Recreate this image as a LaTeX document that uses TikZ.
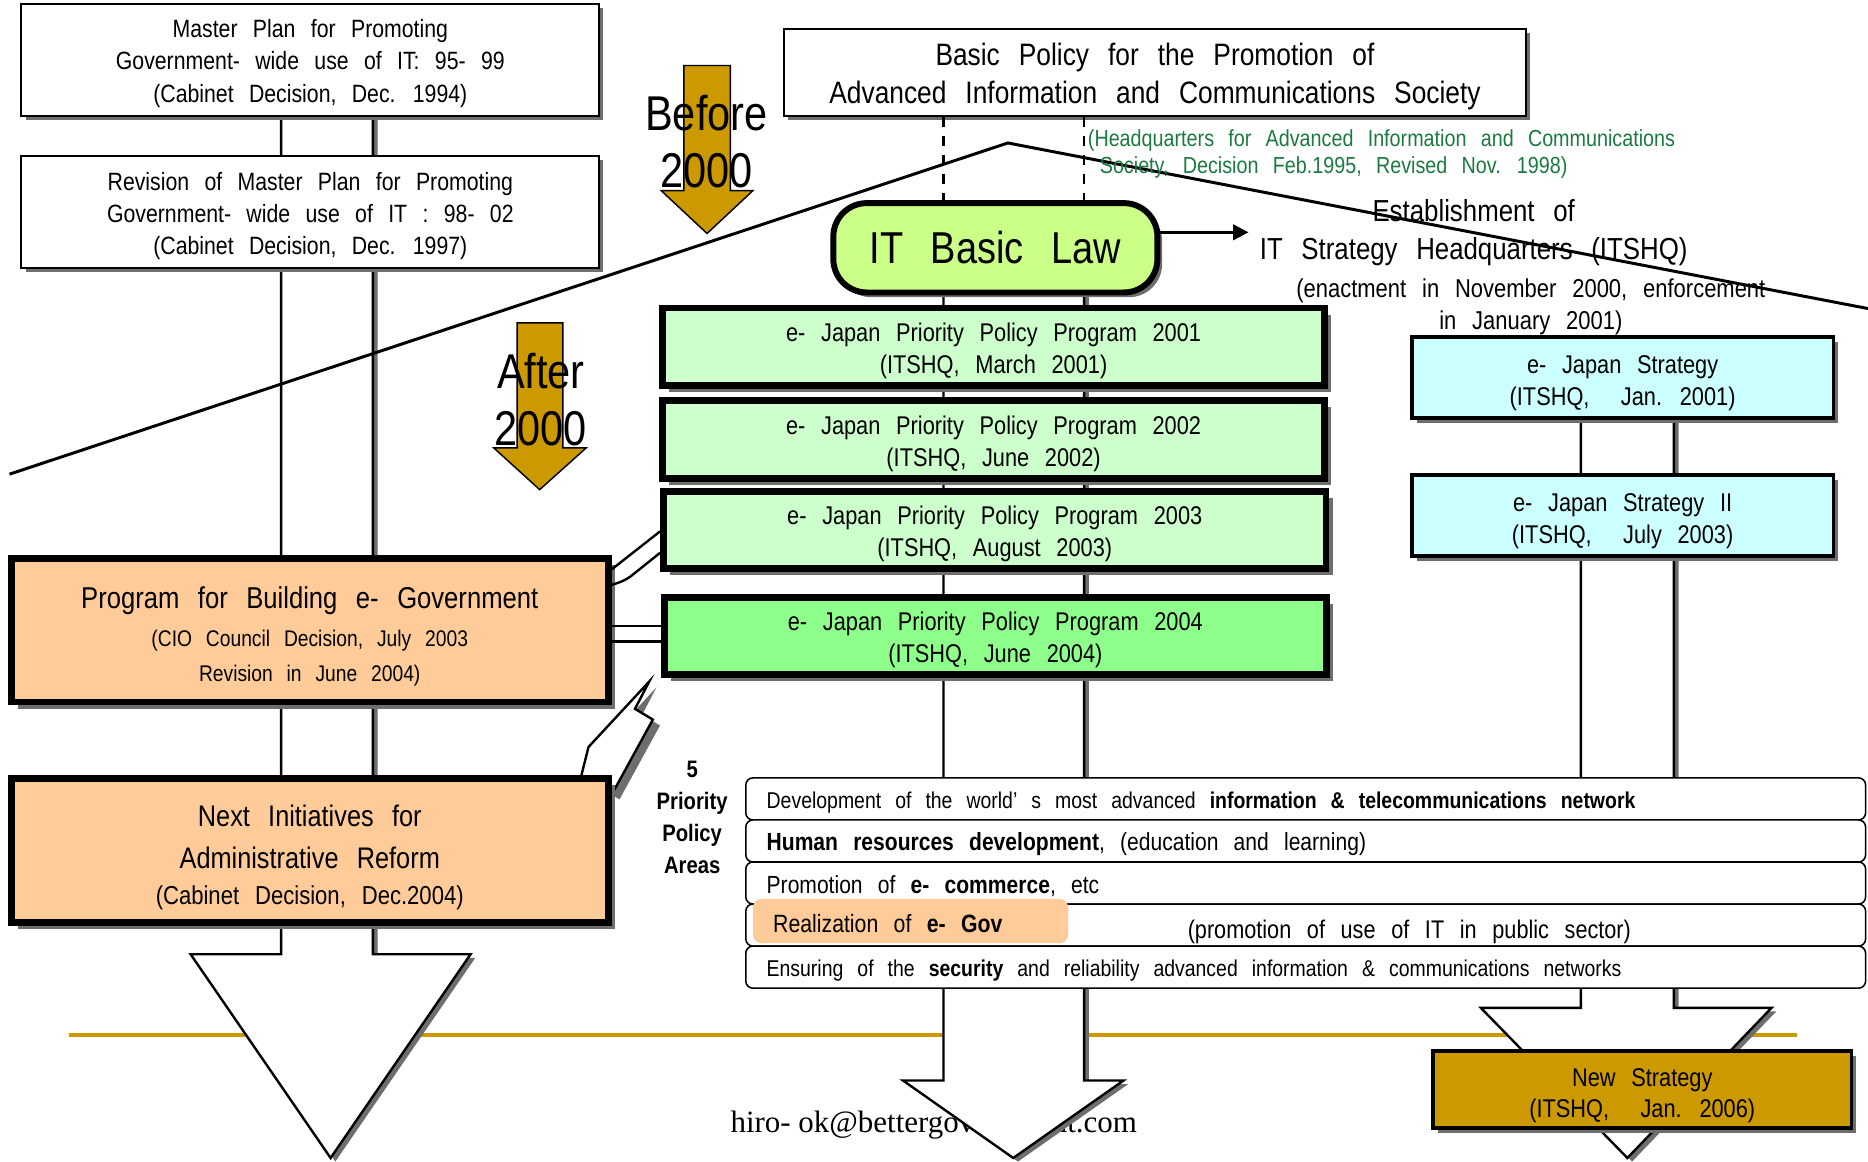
\documentclass[tikz,border=0pt]{standalone}
\usepackage{fontspec}
\setmainfont{Liberation Sans}[FakeStretch=0.85, WordSpace=2.6]
\newfontfamily\mailfont{Liberation Serif}
\usetikzlibrary{shadows,arrows.meta,calc}

\definecolor{ogold}{HTML}{CC9900}
\definecolor{opeach}{HTML}{FFCC99}
\definecolor{olgreen}{HTML}{CCFFCC}
\definecolor{omgreen}{HTML}{8FFF8C}
\definecolor{olime}{HTML}{CCFF88}
\definecolor{olcyan}{HTML}{CCFFFF}
\definecolor{ohqgreen}{HTML}{1A7A40}
\definecolor{oshade}{HTML}{6E6E6E}

\newcommand\fsz[2]{\fontsize{#1}{#2}\selectfont}
% invisible strut that lowers the text block inside a box
\newcommand\lift[1]{\rule{0pt}{#1}}

\tikzset{
  thinbox/.style={draw, line width=1.6pt, fill=white, align=center, inner sep=0pt,
    drop shadow={shadow xshift=3.5pt, shadow yshift=-3.5pt, fill=oshade, opacity=1}},
  thickbox/.style={draw, line width=5.8pt, align=center, inner sep=0pt,
    drop shadow={shadow xshift=5.5pt, shadow yshift=-5.5pt, fill=oshade, opacity=1}},
  ejbox/.style={thickbox, fill=olgreen, minimum width=556, minimum height=65, font=\fsz{21.5}{27}},
  stratbox/.style={draw, line width=3pt, fill=olcyan, align=center, inner sep=0pt,
    minimum width=354, minimum height=68, font=\fsz{21.5}{27},
    drop shadow={shadow xshift=4pt, shadow yshift=-4pt, fill=oshade, opacity=1}},
  hollowarrow/.style={fill=white, draw=black, line width=2pt, line join=miter},
  goldarrow/.style={fill=ogold, draw=black, line width=1.2pt, line join=miter},
  prow/.style={draw, line width=1.3pt, fill=white, rounded corners=6pt,
    minimum width=940, minimum height=35.3, inner sep=0pt},
  rowtext/.style={anchor=west, inner sep=0pt, font=\fsz{19.2}{22}},
  plain/.style={inner sep=0pt, align=center}
}

\begin{document}
\begin{tikzpicture}[x=1pt, y=-1pt]
\useasboundingbox (0,0) rectangle (1568,975);

% horizontal rule and footer address, lying under the big arrows
\draw[ogold, line width=3.4pt] (58,869) -- (1508,869);
\node[plain, anchor=west, font=\mailfont\fsz{26}{30}] (mail) at (613,944) {hiro- ok@bettergovernment.com};

% left hollow arrow
\begin{scope}[shift={(4,3)}]
  \fill[oshade] (236,60) -- (236,801) -- (160,801) -- (277.5,972) -- (395,801) -- (313,801) -- (313,60) -- cycle;
\end{scope}
\draw[hollowarrow] (236,60) -- (236,801) -- (160,801) -- (277.5,972) -- (395,801) -- (313,801) -- (313,60) -- cycle;

% middle hollow arrow
\begin{scope}[shift={(4,3)}]
  \fill[oshade] (792,220) -- (792,907) -- (758,907) -- (850.5,972) -- (943,907) -- (910,907) -- (910,220) -- cycle;
\end{scope}
\draw[hollowarrow] (792,220) -- (792,907) -- (758,907) -- (850.5,972) -- (943,907) -- (910,907) -- (910,220) -- cycle;

% right hollow arrow
\begin{scope}[shift={(4,3)}]
  \fill[oshade] (1327,320) -- (1327,846) -- (1243,846) -- (1366,972) -- (1487,846) -- (1405,846) -- (1405,320) -- cycle;
\end{scope}
\draw[hollowarrow] (1327,320) -- (1327,846) -- (1243,846) -- (1366,972) -- (1487,846) -- (1405,846) -- (1405,320) -- cycle;

% lightning-shaped link below the 2004 programme
\begin{scope}[shift={(6,5)}]
  \fill[oshade] (488,651) -- (494,627) -- (545,572) -- (533,595) -- (548,604) -- (514,666) -- cycle;
\end{scope}
\draw[hollowarrow] (488,651) -- (494,627) -- (545,572) -- (533,595) -- (548,604) -- (514,666) -- cycle;

% dividing roof line between the two periods
\coordinate (roofL) at (8,398);
\coordinate (roofT) at (846,120);
\coordinate (roofR) at (1568,259);
\draw[line width=2.5pt, line join=miter] (roofL) -- (roofT) -- (roofR);

% gold period arrows
\draw[goldarrow] (574,55) -- (574,160) -- (555,160) -- (593.5,196) -- (632,160) -- (613,160) -- (613,55) -- cycle;
\node[plain, font=\fsz{41}{48}] (before) at (593,119) {Before\\2000};
\draw[goldarrow] (434,271) -- (434,376) -- (414.5,376) -- (453,411) -- (492,376) -- (472.5,376) -- (472.5,271) -- cycle;
\node[plain, font=\fsz{41}{48}] (after) at (454,335.5) {After\\2000};

% left column
\node[thinbox, minimum width=485, minimum height=94, font=\fsz{21}{27}] (master) at (260.5,50)
  {\lift{21.6pt}Master Plan for Promoting\\Government- wide use of IT: 95- 99\\(Cabinet Decision, Dec. 1994)};
\node[thinbox, minimum width=485, minimum height=94, font=\fsz{21}{27}] (revision) at (260.5,178)
  {\lift{21.6pt}Revision of Master Plan for Promoting\\Government- wide use of IT : 98- 02\\(Cabinet Decision, Dec. 1997)};

% top centre
\node[thinbox, minimum width=623, minimum height=73, font=\fsz{26}{32}] (basic) at (969.5,60.5)
  {\lift{26.6pt}Basic Policy for the Promotion of\\Advanced Information and Communications Society};
\draw[line width=2pt, dash pattern=on 9pt off 7pt] (792,0 |- basic.south) -- (792,169);
\draw[line width=2pt, dash pattern=on 9pt off 7pt] (910,0 |- basic.south) -- (910,169);
\node[plain, anchor=west, align=left, text=ohqgreen, font=\fsz{19.5}{23}] (hqnote) at (913,129.5)
  {(Headquarters for Advanced Information and Communications\\\hspace*{10pt}Society, Decision Feb.1995, Revised Nov. 1998)};

\node[draw, line width=5pt, fill=olime, rounded corners=28pt, minimum width=272, minimum height=75,
  inner sep=0pt, font=\fsz{37.5}{40},
  drop shadow={shadow xshift=4pt, shadow yshift=-4pt, fill=oshade, opacity=1}] (itlaw) at (835.5,208) {IT Basic Law};
\coordinate (hqtip) at (1048,195);
\draw[line width=2.5pt, -{Triangle[length=13pt, width=13pt]}] (itlaw.east |- hqtip) -- (hqtip);
\node[plain, font=\fsz{25.5}{32}] (estab) at (1237,195) {Establishment of\\IT Strategy Headquarters (ITSHQ)};
\node[plain, font=\fsz{21.7}{27}] (enact) at (1285,257.5) {(enactment in November 2000, enforcement\\in January 2001)};

% e-Japan priority programmes
\node[ejbox] (p2001) at (834,291) {\lift{22.4pt}e- Japan Priority Policy Program 2001\\(ITSHQ, March 2001)};
\node[ejbox] (p2002) at (834,369) {\lift{22.4pt}e- Japan Priority Policy Program 2002\\(ITSHQ, June 2002)};
\node[ejbox] (p2003) at (835,445) {\lift{22.4pt}e- Japan Priority Policy Program 2003\\(ITSHQ, August 2003)};
\node[ejbox, fill=omgreen] (p2004) at (835.5,534) {\lift{22.4pt}e- Japan Priority Policy Program 2004\\(ITSHQ, June 2004)};

% e-Japan strategies
\node[stratbox] (strat1) at (1362,317) {\lift{25pt}e- Japan Strategy\\(ITSHQ,\ \ Jan. 2001)};
\node[stratbox] (strat2) at (1362,432.5) {\lift{25pt}e- Japan Strategy II\\(ITSHQ,\ \ July 2003)};

% e-Government programme and its links to the priority programmes
\node[thickbox, fill=opeach, minimum width=501, minimum height=120.5] (prog) at (260,529) {};
\node[plain, font=\fsz{25.3}{30}] (progt) at (260,504) {Program for Building e- Government};
\node[plain, font=\fsz{19}{29}] (progs) at (260,552.5) {(CIO Council Decision, July 2003\\Revision in June 2004)};
\draw[line width=2pt] ([yshift=51pt]prog.east) -- ([yshift=-1pt]p2003.west);
\draw[line width=2pt, rounded corners=6pt] ([yshift=38pt]prog.east) -- ++(12,-4) -- ([yshift=-19pt]p2003.west);
\draw[line width=2pt] ([yshift=3.5pt]prog.east) -- ([yshift=3.5pt]prog.east -| p2004.west);
\draw[line width=2pt] ([yshift=-9.6pt]prog.east) -- ([yshift=-9.6pt]prog.east -| p2004.west);

\node[thickbox, fill=opeach, minimum width=501, minimum height=120.5] (next) at (260,714) {};
\node[plain, font=\fsz{25}{35}] (nextt) at (260,702.5) {Next Initiatives for\\Administrative Reform};
\node[plain, font=\fsz{21.8}{26}] (nexts) at (260,754) {(Cabinet Decision, Dec.2004)};

% five priority policy areas
\node[plain, font=\bfseries\fsz{20}{27}] (areas) at (581,686) {5\\Priority\\Policy\\Areas};
\node[prow] (r1) at (1096,670.6) {};
\node[rowtext] (r1t) at ([xshift=18pt, yshift=-3pt]r1.west)
  {Development of the world’ s most advanced \textbf{information \& telecommunications network}};
\node[prow] (r2) at (1096,705.9) {};
\node[rowtext, font=\fsz{20.8}{22}] (r2t) at ([xshift=18pt, yshift=-3pt]r2.west)
  {\textbf{Human resources development}, (education and learning)};
\node[prow] (r3) at (1096,741.2) {};
\node[rowtext, font=\fsz{20.8}{22}] (r3t) at ([xshift=18pt, yshift=-3pt]r3.west) {Promotion of \textbf{e- commerce}, etc};
\node[prow] (r4) at (1096,776.5) {};
\node[prow] (r5) at (1096,811.8) {};
\node[rowtext] (r5t) at ([xshift=18pt, yshift=-3pt]r5.west)
  {Ensuring of the \textbf{security} and reliability advanced information \& communications networks};
\node[fill=opeach, rounded corners=7pt, minimum width=264.5, minimum height=37, inner sep=0pt] (egov) at (764.25,773.1) {};
\node[rowtext, font=\fsz{21}{22}] (egovt) at ([xshift=17pt, yshift=-2pt]egov.west) {Realization of \textbf{e- Gov}};
\node[plain, font=\fsz{21.4}{22}] (promo) at (1183,782.5) {(promotion of use of IT in public sector)};

% new strategy
\node[draw, line width=3pt, fill=ogold, minimum width=351, minimum height=65, inner sep=0pt, align=center,
  font=\fsz{21.5}{26}, drop shadow={shadow xshift=4pt, shadow yshift=-4pt, fill=oshade, opacity=1}] (newstrat)
  at (1378.5,914.5) {\lift{25.4pt}New Strategy\\(ITSHQ,\ \ Jan. 2006)};
\end{tikzpicture}
\end{document}
